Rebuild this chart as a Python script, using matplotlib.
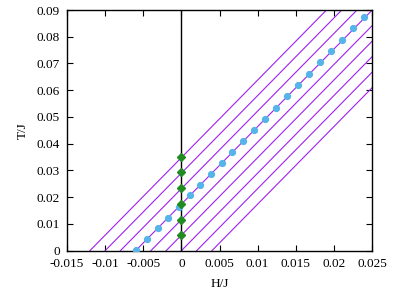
import matplotlib
matplotlib.use("Agg")
import matplotlib.pyplot as plt

# purple lines: H/J where each line meets T=0, and their common slope dT/dH
line_h0 = [-0.012, -0.010, -0.008, -0.006, -0.004, -0.002, 0.0, 0.002, 0.004]
line_slope = 2.9

# blue points along the H0=-0.006 line
blue_h = [-0.00591, -0.00451, -0.00310, -0.00175, -0.00035, 0.00113, 0.00248,
          0.00385, 0.00529, 0.00668, 0.00812, 0.00956, 0.01101, 0.01241,
          0.01385, 0.01530, 0.01674, 0.01818, 0.01962, 0.02111, 0.02255, 0.02399]
blue_t = [0.0004, 0.0044, 0.0084, 0.0123, 0.0164, 0.0207, 0.0247, 0.0288,
          0.0329, 0.0370, 0.0411, 0.0452, 0.0494, 0.0535, 0.0577, 0.0619,
          0.0661, 0.0704, 0.0746, 0.0788, 0.0831, 0.0873]

# green diamonds on H=0
green_h = [0, 0, 0, 0, 0, 0]
green_t = [0.0058, 0.0115, 0.0175, 0.0233, 0.0293, 0.0351]

x_ticks = [-0.015, -0.01, -0.005, 0, 0.005, 0.01, 0.015, 0.02, 0.025]
x_labels = ["-0.015", "-0.01", "-0.005", "0", "0.005", "0.01", "0.015", "0.02", "0.025"]
y_ticks = [0, 0.01, 0.02, 0.03, 0.04, 0.05, 0.06, 0.07, 0.08, 0.09]
y_labels = ["0", "0.01", "0.02", "0.03", "0.04", "0.05", "0.06", "0.07", "0.08", "0.09"]

plt.rcParams["font.family"] = "Liberation Serif"
plt.rcParams["font.size"] = 9.5

fig = plt.figure(figsize=(3.95, 2.9), dpi=100)
ax = fig.add_axes([0.1696, 0.1355, 0.7722, 0.830])

for h0 in line_h0:
    ax.axline((h0, 0), slope=line_slope, color="#A020F0", linewidth=0.8, zorder=2)

ax.axvline(0, color="black", linewidth=1.0, zorder=3)

ax.plot(blue_h, blue_t, linestyle="none", marker="o", markersize=4.2,
        color="#56B4E9", zorder=4)
ax.plot(green_h, green_t, linestyle="none", marker="D", markersize=4.0,
        color="#228B22", zorder=5)

ax.set_xlim(-0.015, 0.025)
ax.set_ylim(0, 0.09)
ax.set_xticks(x_ticks)
ax.set_xticklabels(x_labels)
ax.set_yticks(y_ticks)
ax.set_yticklabels(y_labels)
ax.tick_params(direction="in", length=4, width=0.8, top=True, right=True, pad=5)

for spine in ax.spines.values():
    spine.set_linewidth(1.0)

ax.set_xlabel("H/J", labelpad=6)
ax.set_ylabel("T/J", labelpad=6)

fig.savefig("out.png", dpi=100)
